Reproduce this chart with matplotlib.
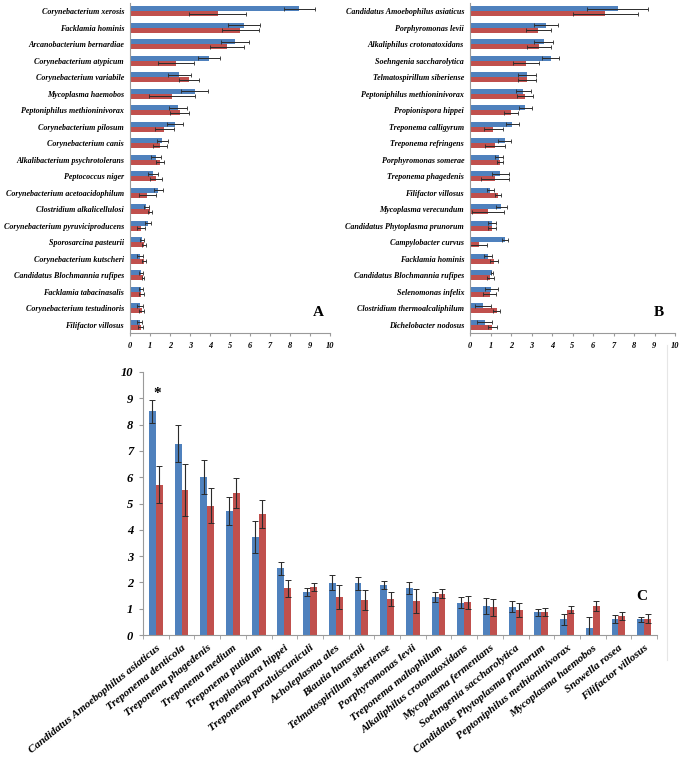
import numpy as np
import matplotlib
matplotlib.use("Agg")
import matplotlib.pyplot as plt
from matplotlib.lines import Line2D

# ---------------- Data ----------------
a_labels = ["Corynebacterium xerosis", "Facklamia hominis", "Arcanobacterium bernardiae",
            "Corynebacterium atypicum", "Corynebacterium variabile", "Mycoplasma haemobos",
            "Peptoniphilus methioninivorax", "Corynebacterium pilosum", "Corynebacterium canis",
            "Alkalibacterium psychrotolerans", "Peptococcus niger",
            "Corynebacterium acetoacidophilum", "Clostridium alkalicellulosi",
            "Corynebacterium pyruviciproducens", "Sporosarcina pasteurii",
            "Corynebacterium kutscheri", "Candidatus Blochmannia rufipes",
            "Facklamia tabacinasalis", "Corynebacterium testudinoris", "Filifactor villosus"]
a_blue = [8.47, 5.72, 5.25, 3.95, 2.47, 3.23, 2.40, 2.25, 1.62, 1.32,
          1.15, 1.42, 0.82, 0.90, 0.60, 0.50, 0.53, 0.55, 0.48, 0.48]
a_blue_err = [0.77, 0.80, 0.70, 0.53, 0.57, 0.68, 0.43, 0.40, 0.28, 0.25,
              0.23, 0.23, 0.13, 0.17, 0.12, 0.15, 0.10, 0.12, 0.15, 0.12]
a_red = [4.38, 5.52, 4.85, 2.30, 2.97, 2.12, 2.48, 1.72, 1.52, 1.52,
         1.30, 0.87, 1.00, 0.53, 0.68, 0.68, 0.65, 0.57, 0.58, 0.53]
a_red_err = [1.42, 0.93, 0.83, 0.88, 0.50, 1.15, 0.48, 0.47, 0.35, 0.20,
             0.28, 0.43, 0.10, 0.20, 0.10, 0.10, 0.07, 0.12, 0.13, 0.12]

b_labels = ["Candidatus Amoebophilus asiaticus", "Porphyromonas levii",
            "Alkaliphilus crotonatoxidans", "Soehngenia saccharolytica",
            "Telmatospirillum siberiense", "Peptoniphilus methioninivorax",
            "Propionispora hippei", "Treponema calligyrum", "Treponema refringens",
            "Porphyromonas somerae", "Treponema phagedenis", "Filifactor villosus",
            "Mycoplasma verecundum", "Candidatus Phytoplasma prunorum",
            "Campylobacter curvus", "Facklamia hominis", "Candidatus Blochmannia rufipes",
            "Selenomonas infelix", "Clostridium thermoalcaliphilum", "Dichelobacter nodosus"]
b_blue = [7.20, 3.72, 3.60, 3.94, 2.78, 2.60, 2.69, 2.06, 1.69, 1.43,
          1.48, 0.99, 1.53, 1.07, 1.70, 0.88, 1.06, 1.04, 0.63, 0.71]
b_blue_err = [1.50, 0.58, 0.47, 0.42, 0.42, 0.36, 0.31, 0.32, 0.32, 0.19,
              0.42, 0.16, 0.26, 0.18, 0.13, 0.21, 0.06, 0.31, 0.39, 0.35]
b_red = [6.60, 3.33, 3.36, 2.74, 2.79, 2.66, 1.98, 1.14, 1.22, 1.46,
         1.22, 1.36, 0.86, 1.06, 0.42, 1.17, 0.99, 0.96, 1.30, 1.09]
b_red_err = [1.60, 0.62, 0.57, 0.65, 0.45, 0.39, 0.34, 0.45, 0.47, 0.16,
             0.68, 0.13, 0.78, 0.19, 0.41, 0.19, 0.16, 0.31, 0.16, 0.21]

c_labels = ["Candidatus Amoebophilus asiaticus", "Treponema denticola",
            "Treponema phagedenis", "Treponema medium", "Treponema putidum",
            "Propionispora hippei", "Treponema paraluiscuniculi", "Acholeplasma ales",
            "Blautia hansenii", "Telmatospirillum siberiense", "Porphyromonas levii",
            "Treponema maltophilum", "Alkaliphilus crotonatoxidans",
            "Mycoplasma fermentans", "Soehngenia saccharolytica",
            "Candidatus Phytoplasma prunorum", "Peptoniphilus methioninivorax",
            "Mycoplasma haemobos", "Snowella rosea", "Filifactor villosus"]
c_blue = [8.51, 7.28, 6.01, 4.72, 3.73, 2.54, 1.63, 1.99, 1.97, 1.90,
          1.79, 1.44, 1.23, 1.09, 1.08, 0.86, 0.59, 0.25, 0.62, 0.59]
c_blue_err = [0.44, 0.70, 0.63, 0.54, 0.61, 0.25, 0.16, 0.29, 0.25, 0.15,
              0.22, 0.18, 0.20, 0.30, 0.20, 0.13, 0.20, 0.42, 0.15, 0.11]
c_red = [5.72, 5.53, 4.92, 5.39, 4.61, 1.77, 1.82, 1.43, 1.33, 1.37,
         1.30, 1.57, 1.24, 1.06, 0.94, 0.86, 0.96, 1.11, 0.72, 0.62]
c_red_err = [0.71, 0.99, 0.68, 0.57, 0.53, 0.34, 0.16, 0.46, 0.37, 0.25,
             0.46, 0.18, 0.24, 0.32, 0.27, 0.15, 0.13, 0.18, 0.14, 0.18]

x_ticks_ab = list(range(0, 11))
y_ticks_c = list(range(0, 11))

# ---------------- Style ----------------
BLUE = "#4F81BD"
RED = "#C0504D"
ERR = "#2b2b2b"
AXC = "#9a9a9a"
FONT = dict(family="Liberation Serif", weight="bold", style="italic")

W, H = 683, 761
fig = plt.figure(figsize=(W / 100, H / 100), dpi=100)


def ax_px(left, top, right, bottom):
    return fig.add_axes([left / W, 1 - bottom / H, (right - left) / W, (bottom - top) / H])


def hpanel(ax, labels, blue, berr, red, rerr, letter, letter_xy):
    n = len(labels)
    y = np.arange(n)
    h = 0.29
    ekw = dict(ecolor=ERR, elinewidth=0.7, capsize=1.6, capthick=0.6)
    ax.barh(y - h / 2, blue, height=h, color=BLUE, xerr=berr, error_kw=ekw, zorder=2)
    ax.barh(y + h / 2, red, height=h, color=RED, xerr=rerr, error_kw=ekw, zorder=2)
    ax.set_ylim(n - 0.5, -0.5)
    ax.set_xlim(0, 10)
    ax.set_yticks(y)
    ax.set_yticklabels(labels, fontsize=5.8, **FONT)
    ax.set_xticks(x_ticks_ab)
    ax.set_xticklabels([str(v) for v in x_ticks_ab], fontsize=6, **FONT)
    ax.tick_params(axis="y", length=0, pad=4.3)
    ax.tick_params(axis="x", length=2.5, color=AXC, pad=4)
    for s in ["top", "right"]:
        ax.spines[s].set_visible(False)
    for s in ["left", "bottom"]:
        ax.spines[s].set_color(AXC)
        ax.spines[s].set_linewidth(0.8)
    fig.text(letter_xy[0] / W, 1 - letter_xy[1] / H, letter, fontsize=11,
             family="Liberation Serif", weight="bold", ha="center", va="center")


axA = ax_px(130, 3, 330, 333)
hpanel(axA, a_labels, a_blue, a_blue_err, a_red, a_red_err, "A", (318, 312))

axB = ax_px(470, 3, 675, 333)
hpanel(axB, b_labels, b_blue, b_blue_err, b_red, b_red_err, "B", (659, 313))

# ---------------- Panel C ----------------
axC = ax_px(143, 372, 657, 635)
n = len(c_labels)
x = np.arange(n)
w = 0.27
ekw = dict(ecolor=ERR, elinewidth=0.8, capsize=2.2, capthick=0.7)
axC.bar(x - w / 2, c_blue, width=w, color=BLUE, yerr=c_blue_err, error_kw=ekw, zorder=2)
axC.bar(x + w / 2, c_red, width=w, color=RED, yerr=c_red_err, error_kw=ekw, zorder=2)
axC.set_xlim(-0.5, n - 0.5)
axC.set_ylim(0, 10)
axC.set_yticks(y_ticks_c)
axC.set_yticklabels([str(v) for v in y_ticks_c], fontsize=9, **FONT)
axC.set_xticks(x)
axC.set_xticklabels(c_labels, fontsize=8.1, rotation=39, ha="right",
                    rotation_mode="anchor", **FONT)
axC.set_xticks(np.arange(-0.5, n, 1.0), minor=True)
axC.tick_params(axis="x", which="major", length=0, pad=6)
axC.tick_params(axis="x", which="minor", length=3, color=AXC)
axC.tick_params(axis="y", length=3, color=AXC, pad=4)
for s in ["top", "right"]:
    axC.spines[s].set_visible(False)
for s in ["left", "bottom"]:
    axC.spines[s].set_color(AXC)
    axC.spines[s].set_linewidth(0.8)
axC.text(0.05, 9.2, "*", fontsize=11, family="Liberation Serif", weight="bold",
         ha="center", va="center")
fig.text(642 / W, 1 - 597 / H, "C", fontsize=11, family="Liberation Serif",
         weight="bold", ha="center", va="center")

# faint chart-area border on the right of panel C
fig.add_artist(Line2D([667 / W, 667 / W], [1 - 660 / H, 1 - 345 / H],
                      transform=fig.transFigure, color="#e6e6e6", lw=0.8))

fig.savefig("out.png", dpi=100)
